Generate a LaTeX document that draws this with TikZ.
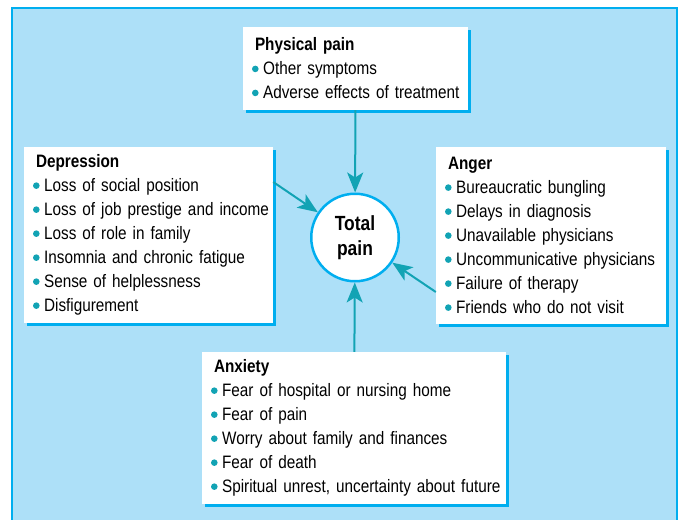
\documentclass[tikz,border=0pt]{standalone}
\usepackage{fontspec}
\setmainfont{Liberation Sans}[FakeStretch=0.85]
\usepackage{tikz}
\usetikzlibrary{arrows.meta, positioning, shadows}
\definecolor{mybg}{RGB}{173,224,248}
\definecolor{mycyan}{RGB}{0,174,239}
\definecolor{myteal}{RGB}{18,163,180}
\newcommand{\bul}{%
  \begin{pgfpicture}\pgfsetbaseline{0pt}%
    \pgfpathcircle{\pgfpoint{3.3pt}{6pt}}{3.3pt}%
    \pgfsetfillcolor{myteal}\pgfusepath{fill}%
  \end{pgfpicture}\hspace{4.5pt}}
\newcommand{\painhead}[1]{\mbox{\hspace*{3pt}\textbf{#1}}}
\newcommand{\painitem}[1]{\\\mbox{\bul#1}}
\tikzset{
  painbox/.style={rectangle, fill=white, align=left,
    inner xsep=9pt, inner ysep=0pt,
    font=\fontsize{18}{24}\selectfont,
    drop shadow={shadow xshift=3pt, shadow yshift=-3pt, fill=mycyan, opacity=1}},
  totalnode/.style={circle, draw=mycyan, fill=white, line width=2.5pt,
    minimum size=87.5pt, inner sep=0pt, align=center,
    font=\fontsize{20.5}{24.5}\selectfont\bfseries},
  arrow/.style={-{Stealth[length=20pt, width=16pt, inset=5pt]},
    line width=2pt, color=myteal}
}
\begin{document}
\begin{tikzpicture}[x=1pt, y=-1pt]
  \useasboundingbox (0,0) rectangle (682,519);
  % Background panel
  \draw[line width=2pt, draw=mycyan, fill=mybg] (12,8) rectangle (677,530);

  % Boxes of causes
  \node[painbox, minimum width=225pt, minimum height=83pt, text width=207pt] (phys) at (355.5,68.5)
    {\painhead{Physical pain}\painitem{Other symptoms}\painitem{Adverse effects of treatment}};
  \node[painbox, minimum width=249pt, minimum height=176pt, text width=231pt] (dep) at (148.5,235)
    {\painhead{Depression}\painitem{Loss of social position}\painitem{Loss of job prestige and income}%
     \painitem{Loss of role in family}\painitem{Insomnia and chronic fatigue}%
     \painitem{Sense of helplessness}\painitem{Disfigurement}};
  \node[painbox, minimum width=230pt, minimum height=177pt, text width=212pt] (ang) at (551,235.5)
    {\painhead{Anger}\painitem{Bureaucratic bungling}\painitem{Delays in diagnosis}%
     \painitem{Unavailable physicians}\painitem{Uncommunicative physicians}%
     \painitem{Failure of therapy}\painitem{Friends who do not visit}};
  \node[painbox, minimum width=304pt, minimum height=152pt, text width=286pt] (anx) at (354,428)
    {\painhead{Anxiety}\painitem{Fear of hospital or nursing home}\painitem{Fear of pain}%
     \painitem{Worry about family and finances}\painitem{Fear of death}%
     \painitem{Spiritual unrest, uncertainty about future}};

  % Centre
  \node[totalnode] (total) at (355,237.5) {Total\\pain};

  % Arrows into the centre
  \draw[arrow] (phys) -- (total);
  \draw[arrow] ([yshift=53pt]dep.east) -- (total);
  \draw[arrow] ([yshift=-56.5pt]ang.west) -- (total);
  \draw[arrow] (anx) -- (total);
\end{tikzpicture}
\end{document}
